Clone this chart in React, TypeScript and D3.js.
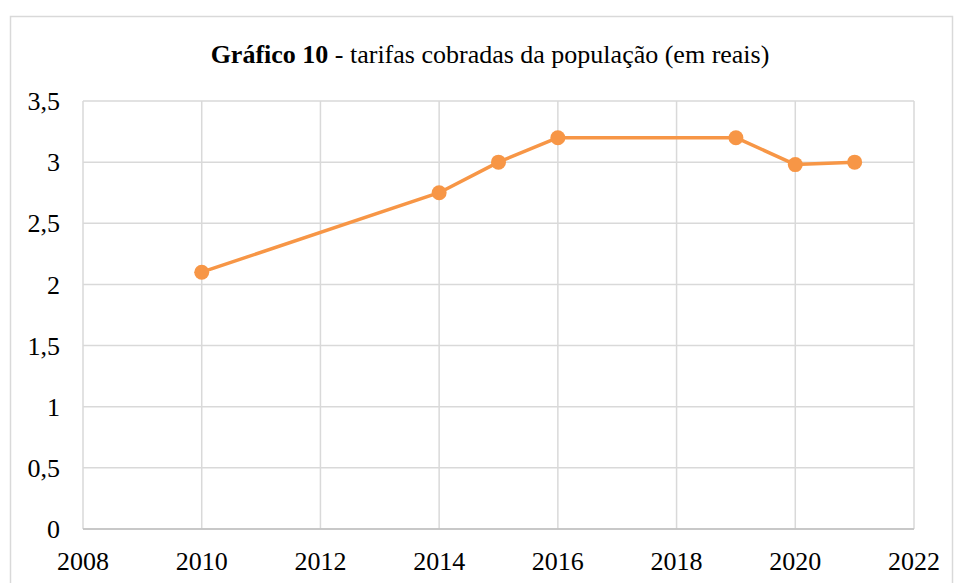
import * as d3 from "d3";

// Chart data
const years = [2010, 2014, 2015, 2016, 2019, 2020, 2021];
const tarifas = [2.1, 2.75, 3.0, 3.2, 3.2, 2.98, 3.0];
const xTicks = [2008, 2010, 2012, 2014, 2016, 2018, 2020, 2022];
const yTicks = [0, 0.5, 1, 1.5, 2, 2.5, 3, 3.5];
const titleBold = "Gráfico 10";
const titleRest = " - tarifas cobradas da população (em reais)";

const W = 956;
const H = 583;
const FONT = "'Liberation Serif', 'Times New Roman', serif";

const App = () => {
  const margin = { top: 101, right: 42, bottom: 54, left: 83 };

  const x = d3
    .scaleLinear()
    .domain([2008, 2022])
    .range([margin.left, W - margin.right]);

  const y = d3
    .scaleLinear()
    .domain([0, 3.5])
    .range([H - margin.bottom, margin.top]);

  const points = years.map((yr, i) => ({ year: yr, value: tarifas[i] }));

  const line = d3
    .line<{ year: number; value: number }>()
    .x((d) => x(d.year))
    .y((d) => y(d.value));

  const fmt = (v: number) => String(v).replace(".", ",");
  const gridColor = "#d9d9d9";
  const orange = "#f79646";

  return (
    <svg
      width={W}
      height={H}
      style={{ position: "absolute", left: 0, top: 0, background: "#fff" }}
    >
      {/* outer chart border */}
      <rect
        x={10.5}
        y={16.5}
        width={942}
        height={H}
        fill="#fff"
        stroke={gridColor}
        strokeWidth={1.5}
      />

      {/* title */}
      <text
        x={490}
        y={63}
        textAnchor="middle"
        fontFamily={FONT}
        fontSize={26}
        fill="#000"
      >
        <tspan fontWeight="bold">{titleBold}</tspan>
        <tspan>{titleRest}</tspan>
      </text>

      {/* vertical grid */}
      {xTicks.map((t) => (
        <line
          key={"vx" + t}
          x1={x(t)}
          x2={x(t)}
          y1={y(3.5)}
          y2={y(0)}
          stroke={gridColor}
          strokeWidth={1.5}
        />
      ))}

      {/* horizontal grid */}
      {yTicks.map((t) => (
        <line
          key={"hy" + t}
          x1={x(2008)}
          x2={x(2022)}
          y1={y(t)}
          y2={y(t)}
          stroke={gridColor}
          strokeWidth={1.5}
        />
      ))}

      {/* x axis line */}
      <line
        x1={x(2008)}
        x2={x(2022)}
        y1={y(0)}
        y2={y(0)}
        stroke="#bfbfbf"
        strokeWidth={1.5}
      />

      {/* y tick labels */}
      {yTicks.map((t) => (
        <text
          key={"yl" + t}
          x={60}
          y={y(t)}
          dy="0.35em"
          textAnchor="end"
          fontFamily={FONT}
          fontSize={26}
          fill="#000"
        >
          {fmt(t)}
        </text>
      ))}

      {/* x tick labels */}
      {xTicks.map((t) => (
        <text
          key={"xl" + t}
          x={x(t)}
          y={570}
          textAnchor="middle"
          fontFamily={FONT}
          fontSize={26}
          fill="#000"
        >
          {t}
        </text>
      ))}

      {/* series */}
      <path
        d={line(points) || ""}
        fill="none"
        stroke={orange}
        strokeWidth={3.5}
        strokeLinejoin="round"
        strokeLinecap="round"
      />
      {points.map((p) => (
        <circle
          key={"pt" + p.year}
          cx={x(p.year)}
          cy={y(p.value)}
          r={7.5}
          fill={orange}
        />
      ))}
    </svg>
  );
};

export default App;
